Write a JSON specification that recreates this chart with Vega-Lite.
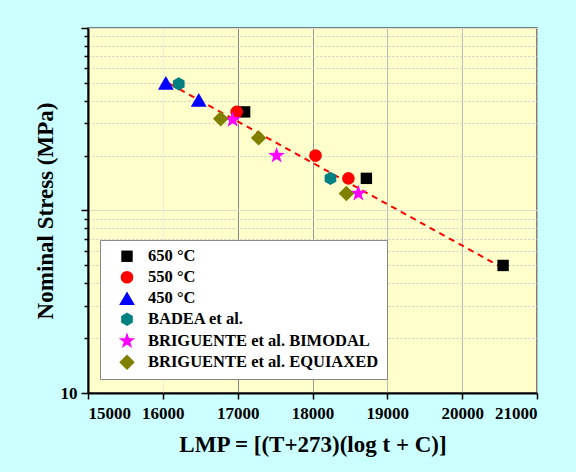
{
  "$schema": "https://vega.github.io/schema/vega-lite/v6.json",
  "width": 449,
  "height": 365,
  "autosize": {"type": "none"},
  "padding": {"left": 88, "top": 28, "right": 39, "bottom": 79},
  "background": "#CCFFFF",
  "config": {
    "view": {"fill": "#FFFFCC", "stroke": "#555555", "strokeWidth": 1.5},
    "font": "Liberation Serif",
    "axis": {
      "labelFont": "Liberation Serif",
      "labelFontWeight": "bold",
      "labelFontSize": 17,
      "labelColor": "#000000",
      "titleFont": "Liberation Serif",
      "titleFontWeight": "bold",
      "titleFontSize": 23,
      "titleColor": "#000000",
      "domainColor": "#000000",
      "domainWidth": 2,
      "tickColor": "#000000",
      "tickWidth": 1.5
    },
    "legend": {
      "labelFont": "Liberation Serif",
      "labelFontWeight": "bold",
      "labelFontSize": 16.5,
      "labelColor": "#000000",
      "fillColor": "#FFFFFF",
      "strokeColor": "#888888",
      "padding": 8,
      "symbolOffset": 10,
      "labelOffset": 12,
      "rowPadding": 4,
      "symbolStrokeWidth": 0,
      "labelLimit": 400
    }
  },
  "datasets": {
    "pts": [
      {"series": "650 °C", "lmp": 17093, "stress": 347},
      {"series": "650 °C", "lmp": 18720, "stress": 150},
      {"series": "650 °C", "lmp": 20547, "stress": 50},
      {"series": "550 °C", "lmp": 16987, "stress": 347},
      {"series": "550 °C", "lmp": 18040, "stress": 200},
      {"series": "550 °C", "lmp": 18480, "stress": 150},
      {"series": "450 °C", "lmp": 16040, "stress": 501},
      {"series": "450 °C", "lmp": 16480, "stress": 404},
      {"series": "BADEA et al.", "lmp": 16213, "stress": 494},
      {"series": "BADEA et al.", "lmp": 18240, "stress": 150},
      {"series": "BRIGUENTE et al. BIMODAL", "lmp": 16933, "stress": 314},
      {"series": "BRIGUENTE et al. BIMODAL", "lmp": 17520, "stress": 200},
      {"series": "BRIGUENTE et al. BIMODAL", "lmp": 18613, "stress": 124},
      {"series": "BRIGUENTE et al. EQUIAXED", "lmp": 16773, "stress": 318},
      {"series": "BRIGUENTE et al. EQUIAXED", "lmp": 17280, "stress": 250},
      {"series": "BRIGUENTE et al. EQUIAXED", "lmp": 18453, "stress": 124}
    ],
    "fit": [
      {"lmp": 16093, "stress": 494},
      {"lmp": 20480, "stress": 50}
    ]
  },
  "layer": [
    {
      "data": {"name": "fit"},
      "mark": {"type": "line", "color": "#FF0000", "strokeDash": [6, 5], "strokeWidth": 2},
      "encoding": {
        "x": {
          "field": "lmp", "type": "quantitative",
          "scale": {"domain": [15000, 21000], "nice": false, "zero": false},
          "axis": {
            "values": [15000, 16000, 17000, 18000, 19000, 20000, 21000],
            "format": "d",
            "tickSize": 6,
            "labelPadding": 6,
            "grid": true,
            "gridColor": {
              "condition": [
                {"test": "datum.value == 16000", "value": "#EEEEDD"},
                {"test": "datum.value == 17000", "value": "#888888"},
                {"test": "datum.value == 18000", "value": "#999999"}
              ],
              "value": "#BBBBBB"
            },
            "gridWidth": 1,
            "title": "LMP = [(T+273)(log t + C)]",
            "titlePadding": 12
          }
        },
        "y": {
          "field": "stress", "type": "quantitative",
          "scale": {"type": "log", "domain": [10, 1000], "nice": false},
          "axis": {
            "orient": "left",
            "values": [20, 30, 40, 50, 60, 70, 80, 90, 200, 300, 400, 500, 600, 700, 800, 900],
            "tickSize": 4,
            "labels": false,
            "domain": false,
            "title": null,
            "grid": true,
            "gridColor": "#CCCCCC",
            "gridDash": [2, 2],
            "gridWidth": 1
          }
        }
      }
    },
    {
      "data": {"name": "pts"},
      "mark": {"type": "point", "filled": true, "opacity": 1, "strokeWidth": 0},
      "encoding": {
        "x": {"field": "lmp", "type": "quantitative"},
        "y": {
          "field": "stress", "type": "quantitative",
          "axis": {
            "orient": "left",
            "values": [10, 100, 1000],
            "labelExpr": "datum.value == 10 ? '10' : ''",
            "tickSize": 7,
            "labelPadding": 4,
            "grid": true,
            "gridColor": "#DDDDCC",
            "title": "Nominal Stress (MPa)",
            "titlePadding": 3
          }
        },
        "color": {
          "field": "series", "type": "nominal",
          "scale": {
            "domain": ["650 °C", "550 °C", "450 °C", "BADEA et al.", "BRIGUENTE et al. BIMODAL", "BRIGUENTE et al. EQUIAXED"],
            "range": ["#000000", "#FF0000", "#0000FF", "#008080", "#FF00FF", "#808000"]
          },
          "legend": {"title": null, "orient": "none", "legendX": 12, "legendY": 212}
        },
        "shape": {
          "field": "series", "type": "nominal",
          "scale": {
            "domain": ["650 °C", "550 °C", "450 °C", "BADEA et al.", "BRIGUENTE et al. BIMODAL", "BRIGUENTE et al. EQUIAXED"],
            "range": ["square", "circle", "triangle-up", "M0,-1L0.866,-0.5L0.866,0.5L0,1L-0.866,0.5L-0.866,-0.5Z", "M0,-1L0.235,-0.324L0.951,-0.309L0.38,0.124L0.588,0.809L0,0.4L-0.588,0.809L-0.38,0.124L-0.951,-0.309L-0.235,-0.324Z", "diamond"]
          },
          "legend": {"title": null, "orient": "none", "legendX": 12, "legendY": 212}
        },
        "size": {
          "field": "series", "type": "nominal",
          "scale": {
            "type": "ordinal",
            "domain": ["650 °C", "550 °C", "450 °C", "BADEA et al.", "BRIGUENTE et al. BIMODAL", "BRIGUENTE et al. EQUIAXED"],
            "range": [130, 160, 250, 180, 300, 240]
          },
          "legend": {"title": null, "orient": "none", "legendX": 12, "legendY": 212}
        }
      }
    }
  ],
  "resolve": {"axis": {"y": "independent"}}
}
